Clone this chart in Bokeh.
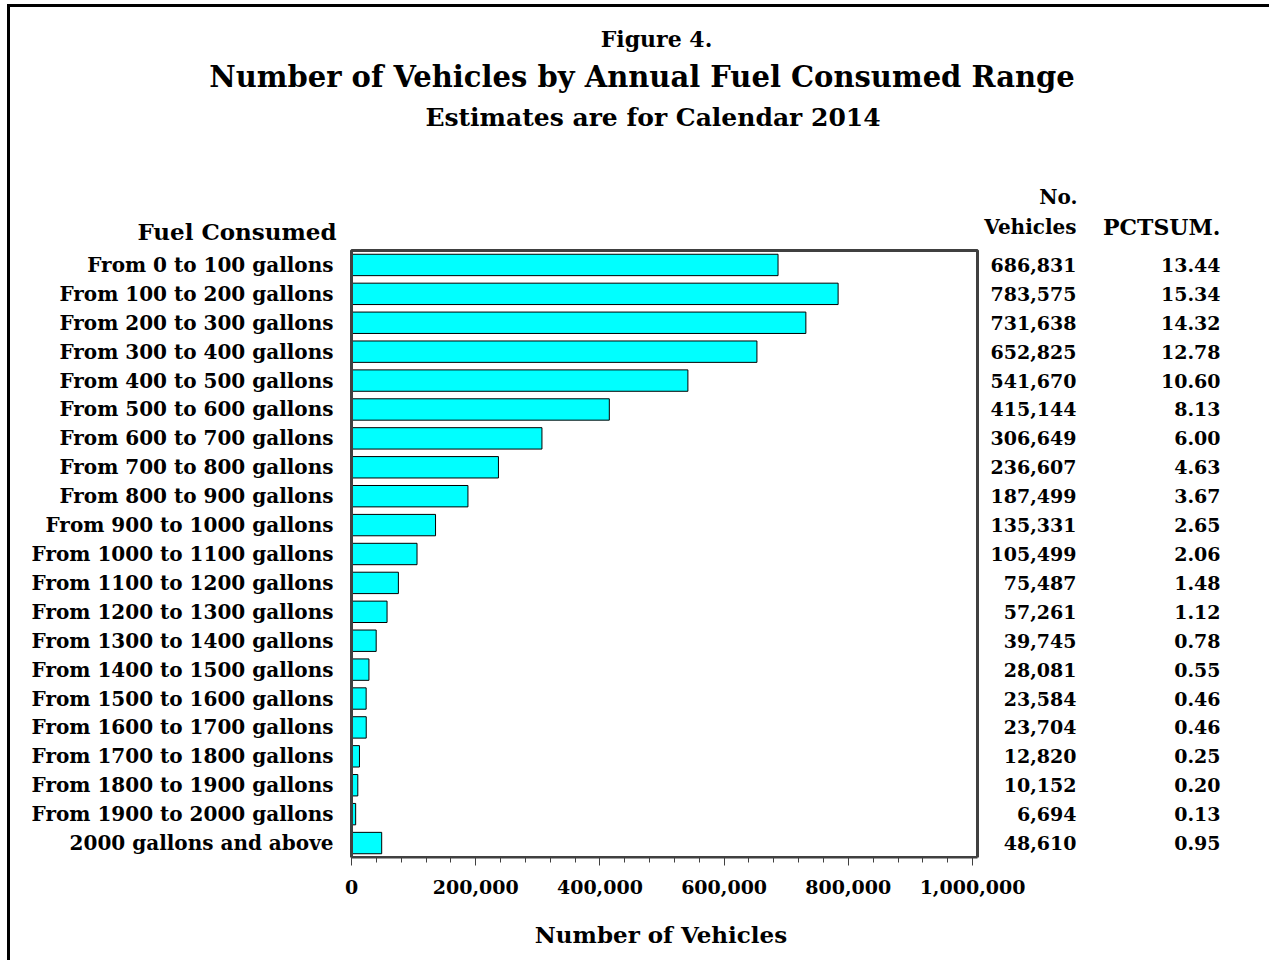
from bokeh.plotting import figure
from bokeh.models import Range1d, SingleIntervalTicker, NumeralTickFormatter, ColumnDataSource
from bokeh.core.properties import value
from bokeh.embed import file_html
from bokeh.resources import INLINE

categories = ["From 0 to 100 gallons", "From 100 to 200 gallons", "From 200 to 300 gallons",
              "From 300 to 400 gallons", "From 400 to 500 gallons", "From 500 to 600 gallons",
              "From 600 to 700 gallons", "From 700 to 800 gallons", "From 800 to 900 gallons",
              "From 900 to 1000 gallons", "From 1000 to 1100 gallons", "From 1100 to 1200 gallons",
              "From 1200 to 1300 gallons", "From 1300 to 1400 gallons", "From 1400 to 1500 gallons",
              "From 1500 to 1600 gallons", "From 1600 to 1700 gallons", "From 1700 to 1800 gallons",
              "From 1800 to 1900 gallons", "From 1900 to 2000 gallons", "2000 gallons and above"]
vehicles = [686831, 783575, 731638, 652825, 541670, 415144, 306649, 236607, 187499, 135331,
            105499, 75487, 57261, 39745, 28081, 23584, 23704, 12820, 10152, 6694, 48610]
pctsum = [13.44, 15.34, 14.32, 12.78, 10.60, 8.13, 6.00, 4.63, 3.67, 2.65,
          2.06, 1.48, 1.12, 0.78, 0.55, 0.46, 0.46, 0.25, 0.20, 0.13, 0.95]
title_lines = ["Figure 4.", "Number of Vehicles by Annual Fuel Consumed Range",
               "Estimates are for Calendar 2014"]
col_headers = ["No.", "Vehicles", "PCTSUM."]
row_header = "Fuel Consumed"
x_title = "Number of Vehicles"

FONT = "DejaVu Serif"
n = len(categories)
rows = list(range(n))
XMAX = 1008000

# canvas geometry (pixels)
W, H = 1262, 956
FL, FR, FT, FB = 341, 967, 243, 850      # chart box inside canvas
B = H - FB
k = XMAX / (FR - FL)                      # data units per px (x)
r = n / (FB - FT)                         # rows per px (y)

def X(px):   # canvas px -> data x
    return (px - FL) * k

def Y(px):   # canvas px -> data y (rows, top-down)
    return -0.5 + (px - FT) * r

p = figure(width=W, height=H, output_backend="svg", toolbar_location=None,
           x_range=Range1d(X(0), X(W)), y_range=Range1d(Y(FB), Y(0)),
           min_border_left=0, min_border_right=0, min_border_top=0, min_border_bottom=B)
p.grid.visible = False
p.outline_line_color = None
p.background_fill_color = "white"
p.border_fill_color = "white"
p.yaxis.visible = False
p.styles = {"margin-left": "7px", "margin-top": "4px",
            "border-left": "3px solid black", "border-top": "3px solid black"}

src = ColumnDataSource(dict(y=rows, v=vehicles, cat=categories,
                            vs=[f"{v:,}" for v in vehicles],
                            ps=[f"{q:.2f}" for q in pctsum]))

# bars
p.hbar(y="y", right="v", left=0, height=0.74, source=src,
       fill_color="#00FFFF", line_color="black", line_width=1)

# chart box
p.quad(left=[0], right=[XMAX], top=[-0.5], bottom=[n - 0.5],
       fill_color=None, line_color="#404040", line_width=3)

# x axis (below)
xa = p.xaxis[0]
xa.bounds = (0, XMAX)
xa.ticker = SingleIntervalTicker(interval=200000, num_minor_ticks=5)
xa.formatter = NumeralTickFormatter(format="0,0")
xa.axis_line_color = "#404040"
xa.axis_line_width = 2
xa.major_tick_in = 0
xa.major_tick_out = 8
xa.minor_tick_in = 0
xa.minor_tick_out = 5
xa.major_tick_line_color = "#404040"
xa.minor_tick_line_color = "#404040"
xa.major_label_text_font = FONT
xa.major_label_text_font_style = "bold"
xa.major_label_text_font_size = "19px"
xa.major_label_text_color = "black"
xa.major_label_standoff = 14
xa.axis_label = "\u2003\u2007" + x_title
xa.axis_label_text_font = FONT
xa.axis_label_text_font_style = "bold"
xa.axis_label_text_font_size = "23px"
xa.axis_label_text_color = "black"
xa.axis_label_standoff = 24

def txt(x, y, text, size, align, source=None):
    kw = dict(text_font=value(FONT), text_font_size=value(size), text_font_style="bold",
              text_align=align, text_baseline="middle", text_color="black")
    if source is not None:
        p.text(x=x, y=y, text=text, source=source, **kw)
    else:
        p.text(x=[x], y=[y], text=[text], **kw)

# category labels, value columns
txt(X(FL - 18), "y", "cat", "20px", "right", src)
txt(X(1066), "y", "vs", "19px", "right", src)
txt(X(1210), "y", "ps", "19px", "right", src)

# column headers
txt(X(1067), Y(189), col_headers[0], "20px", "right")
txt(X(1066), Y(219), col_headers[1], "20px", "right")
txt(X(1210), Y(219), col_headers[2], "22px", "right")
txt(X(326), Y(224), row_header, "23px", "right")

# titles
txt(X(646), Y(31), title_lines[0], "22px", "center")
txt(X(631.5), Y(69), title_lines[1], "29px", "center")
txt(X(642.5), Y(110), title_lines[2], "25px", "center")

open("out.html", "w").write(file_html(p, INLINE))
